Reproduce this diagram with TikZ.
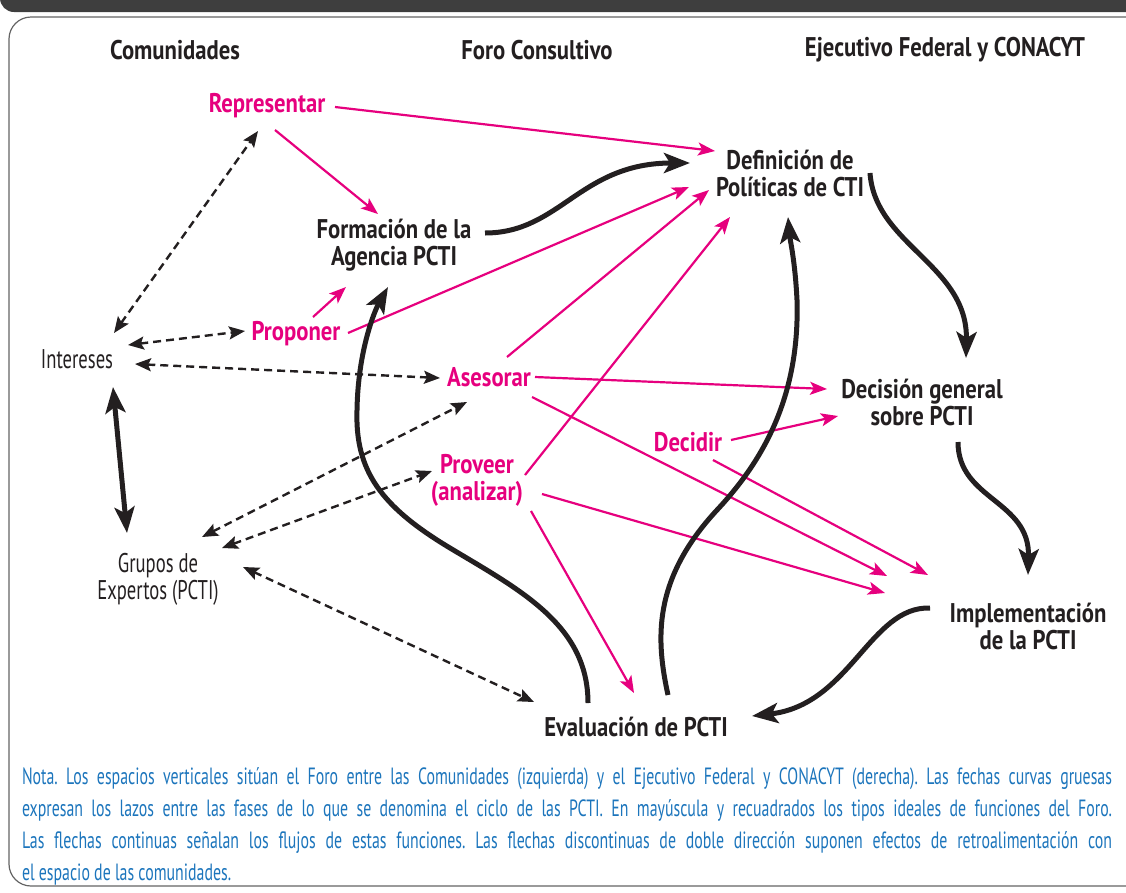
\documentclass[tikz,border=0pt]{standalone}
\usepackage{fontspec}
\setmainfont{PT Sans}[FakeStretch=0.69, BoldFeatures={FakeStretch=0.84}]
\newfontfamily\notefont{PT Sans}[FakeStretch=0.675]
\usetikzlibrary{arrows.meta,calc}
\definecolor{mag}{RGB}{230,0,126}
\definecolor{ink}{RGB}{35,31,32}
\definecolor{noteblue}{RGB}{28,117,188}
\definecolor{barc}{RGB}{62,62,62}
\definecolor{framec}{RGB}{100,100,100}
\begin{document}
\begin{tikzpicture}[x=1pt,y=-1pt,
  every node/.style={inner sep=0pt,outer sep=0pt},
  lab/.style={font=\bfseries\fontsize{27}{27}\selectfont,text=ink,align=center},
  fun/.style={font=\bfseries\fontsize{27}{27}\selectfont,text=mag,align=center},
  plain/.style={font=\fontsize{27}{27}\selectfont,text=ink,align=center},
  flow/.style={draw=mag,line width=2.2pt,-{Stealth[length=17pt,width=13pt,inset=4pt]}},
  fb/.style={draw=ink,line width=2.4pt,dash pattern=on 8pt off 5pt,
    {Stealth[length=16pt,width=13pt,inset=3pt]}-{Stealth[length=16pt,width=13pt,inset=3pt]}},
  cyc/.style={draw=ink,line width=5pt,line cap=butt,-{Stealth[length=26pt,width=20pt,inset=6pt]}},
  dbl/.style={draw=ink,line width=5pt,{Stealth[length=26pt,width=20pt,inset=6pt]}-{Stealth[length=26pt,width=20pt,inset=6pt]}},
]
\useasboundingbox (0,0) rectangle (1126,892);
% header bar and frame
\fill[barc,rounded corners=14pt] (0,-40) rectangle (1170,12);
\draw[framec,line width=1.2pt,rounded corners=22pt] (9,17) rectangle (1160,886);

% column titles
\node[lab] (c1) at (175,50) {Comunidades};
\node[lab] (c2) at (537,50) {Foro Consultivo};
\node[lab] (c3) at (945,50) {Ejecutivo Federal y CONACYT};

% nodes
\node[fun] (rep) at (267,106) {Representar};
\node[lab] (def) at (790,173) {Definición de\\Políticas de CTI};
\node[lab] (form) at (394,245) {Formación de la\\Agencia PCTI};
\node[fun] (prop) at (296,334) {Proponer};
\node[plain] (int) at (77,359) {Intereses};
\node[fun] (ases) at (489,377) {Asesorar};
\node[lab] (dec) at (922,402) {Decisión general\\sobre PCTI};
\node[fun] (decd) at (688,442) {Decidir};
\node[fun] (prov) at (477,480) {Proveer\\(analizar)};
\node[plain] (grp) at (158,579) {Grupos de\\Expertos (PCTI)};
\node[lab] (impl) at (1028,626) {Implementación\\de la PCTI};
\node[lab] (eval) at (636,727) {Evaluación de PCTI};

% waypoints of long cycle curves
\coordinate (w1) at (450,548);
\coordinate (w2) at (357,410);
\coordinate (w3) at (717,510);
\coordinate (w4) at (797,300);

% magenta flows
\draw[flow] ([shift={(68,1)}]rep.center) -- ([shift={(-75,-22)}]def.center);
\draw[flow] ([shift={(8,24)}]rep.center) -- ([shift={(-16,-31)}]form.center);
\draw[flow] ([shift={(17,-17)}]prop.center) -- ([shift={(-48,42)}]form.center);
\draw[flow] ([shift={(52,-1)}]prop.center) -- ([shift={(-101,14)}]def.center);
\draw[flow] ([shift={(18,-20)}]ases.center) -- ([shift={(-81,17)}]def.center);
\draw[flow] ([shift={(48,-5)}]prov.center) -- ([shift={(-60,44)}]def.center);
\draw[flow] ([shift={(46,0)}]ases.center) -- ([shift={(-95,-13)}]dec.center);
\draw[flow] ([shift={(43,20)}]ases.center) -- ([shift={(-141,-50)}]impl.center);
\draw[flow] ([shift={(43,-2)}]decd.center) -- ([shift={(-84,14)}]dec.center);
\draw[flow] ([shift={(25,18)}]decd.center) -- ([shift={(-100,-51)}]impl.center);
\draw[flow] ([shift={(65,14)}]prov.center) -- ([shift={(-143,-33)}]impl.center);
\draw[flow] ([shift={(54,31)}]prov.center) -- ([shift={(-2,-34)}]eval.center);

% dashed feedback
\draw[fb] ([shift={(37,-26)}]int.center) -- ([shift={(-9,25)}]rep.center);
\draw[fb] ([shift={(51,-14)}]int.center) -- ([shift={(-51,-3)}]prop.center);
\draw[fb] ([shift={(58,5)}]int.center) -- ([shift={(-49,1)}]ases.center);
\draw[fb] ([shift={(44,-42)}]grp.center) -- ([shift={(-22,25)}]ases.center);
\draw[fb] ([shift={(64,-31)}]grp.center) -- ([shift={(-45,-9)}]prov.center);
\draw[fb] ([shift={(85,-12)}]grp.center) -- ([shift={(-102,-25)}]eval.center);

% thick cycle arrows
\draw[dbl] ([shift={(36,28)}]int.center) -- ([shift={(-31,-46)}]grp.center);
\draw[cyc] ([shift={(91,-12)}]form.center) .. controls +(75,0) and +(-110,0) .. ([shift={(-100,-10)}]def.center);
\draw[cyc] ([shift={(80,0)}]def.center) .. controls +(5,72) and +(2,-93) .. ([shift={(44,-44)}]dec.center);
\draw[cyc] ([shift={(36,40)}]dec.center) .. controls +(0,58) and +(2,-75) .. ([shift={(0,-51)}]impl.center);
\draw[cyc] ([shift={(-98,-18)}]impl.center) .. controls +(-60,-2) and +(98,-11) .. ([shift={(116,-11)}]eval.center);
\draw[cyc] ([shift={(-48,-24)}]eval.center) .. controls +(0,-78) and +(70,42) .. (w1)
  .. controls +(-70,-42) and +(-2,60) .. (w2)
  .. controls +(1,-60) and +(-13,23) .. ([shift={(-6,42)}]form.center);
\draw[cyc] ([shift={(32,-32)}]eval.center) .. controls +(-12,-55) and +(-65,70) .. (w3)
  .. controls +(43,-46) and +(3,100) .. (w4)
  .. controls +(-2,-40) and +(2,23) .. ([shift={(-2,44)}]def.center);

% note
\node[text=noteblue,text width=1090pt,align=justify,anchor=base west,
  font=\notefont\fontsize{23.5}{32}\selectfont] (note) at (22,784)
  {\frenchspacing\hyphenpenalty=10000 Nota. Los espacios verticales sitúan el Foro entre las Comunidades (izquierda) y el Ejecutivo Federal y CONACYT (derecha). Las fechas curvas gruesas\linebreak
  expresan los lazos entre las fases de lo que se denomina el ciclo de las PCTI. En mayúscula y recuadrados los tipos ideales de funciones del Foro.\linebreak
  Las flechas continuas señalan los flujos de estas funciones. Las flechas discontinuas de doble dirección suponen efectos de retroalimentación con\linebreak
  el espacio de las comunidades.};
\end{tikzpicture}
\end{document}
